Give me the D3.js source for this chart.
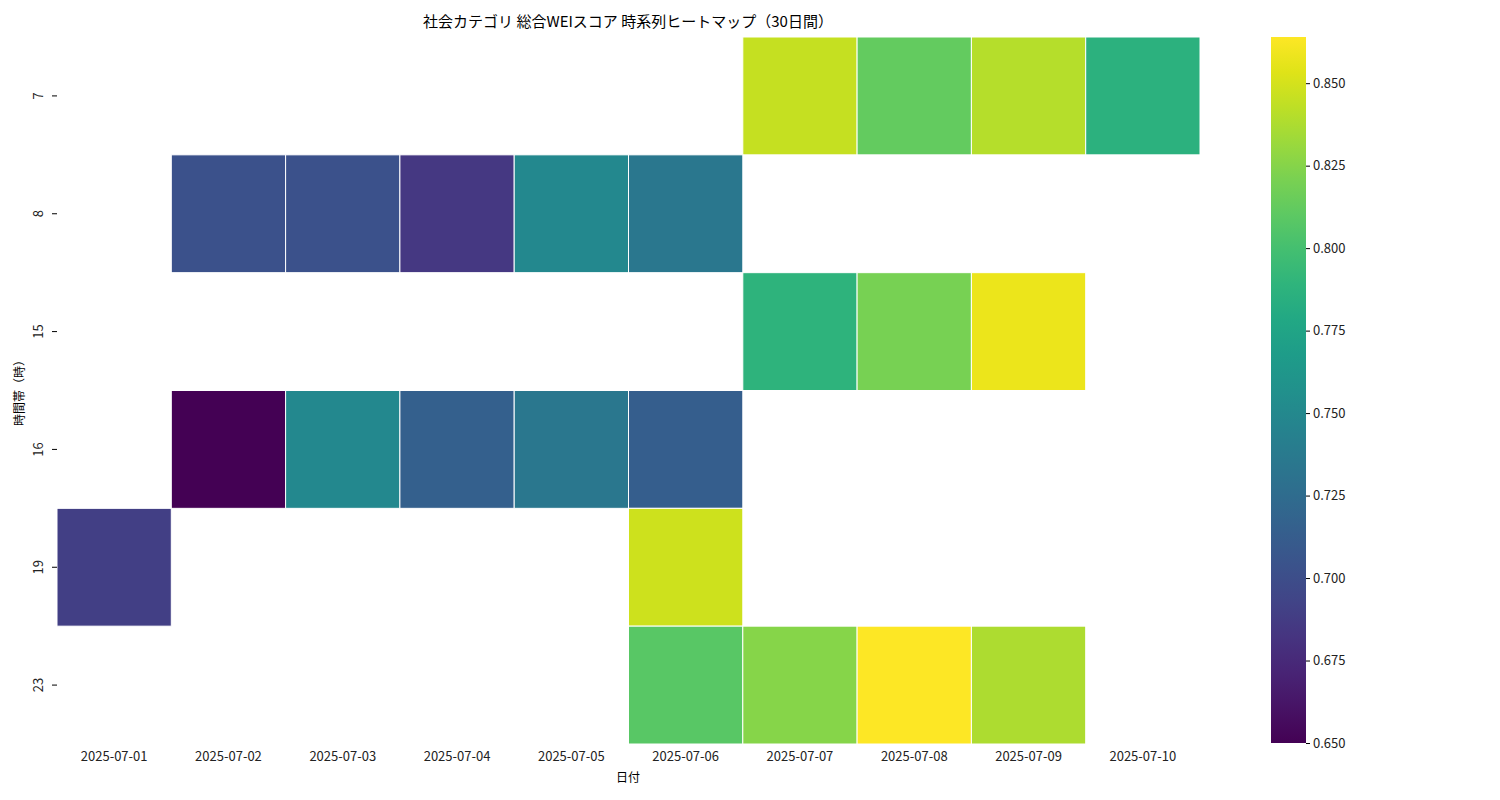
<!DOCTYPE html><html><head><meta charset="utf-8"><script src="https://cdn.jsdelivr.net/npm/d3@7"></script>
<style>body{margin:0;background:#fff}text{font-family:"Noto Sans CJK JP","DejaVu Sans",sans-serif}</style></head><body>
<svg id="c" width="1500" height="800"></svg>
<script>
const dates=["2025-07-01","2025-07-02","2025-07-03","2025-07-04","2025-07-05","2025-07-06","2025-07-07","2025-07-08","2025-07-09","2025-07-10"];
const hours=["7","8","15","16","19","23"];
const cellHour=["7","7","7","7","8","8","8","8","8","15","15","15","16","16","16","16","16","19","19","23","23","23","23"];
const cellDate=["2025-07-07","2025-07-08","2025-07-09","2025-07-10","2025-07-02","2025-07-03","2025-07-04","2025-07-05","2025-07-06","2025-07-07","2025-07-08","2025-07-09","2025-07-02","2025-07-03","2025-07-04","2025-07-05","2025-07-06","2025-07-01","2025-07-06","2025-07-06","2025-07-07","2025-07-08","2025-07-09"];
const cellVal=[0.845,0.813,0.840,0.787,0.703,0.703,0.685,0.750,0.735,0.788,0.820,0.858,0.650,0.750,0.715,0.735,0.713,0.690,0.848,0.808,0.825,0.864,0.838];
const cbTicks=[0.650,0.675,0.700,0.725,0.750,0.775,0.800,0.825,0.850];
const vmin=0.650,vmax=0.864;
const svg=d3.select("#c");
const x=d3.scaleBand().domain(dates).range([57,1200]);
const y=d3.scaleBand().domain(hours).range([37,744]);
const col=d3.scaleSequential(d3.interpolateViridis).domain([vmin,vmax]);
svg.selectAll("rect.c").data(cellVal).enter().append("rect")
 .attr("x",(d,i)=>x(cellDate[i])).attr("y",(d,i)=>y(cellHour[i]))
 .attr("width",x.bandwidth()).attr("height",y.bandwidth())
 .attr("fill",d=>col(d)).attr("stroke","#fff").attr("stroke-width",1);
const ax=svg.append("g").attr("transform","translate(0,744)").call(d3.axisBottom(x).tickSize(0).tickPadding(8));
ax.select(".domain").remove();ax.selectAll("text").attr("font-size",13).attr("fill","#222");
const ay=svg.append("g").attr("transform","translate(57,0)").call(d3.axisLeft(y).tickSize(5));
ay.select(".domain").remove();
ay.selectAll("text").attr("font-size",13).attr("fill","#222").attr("x",0).attr("y",0).attr("dy","0.35em")
 .attr("text-anchor","middle").attr("transform","translate(-19,0) rotate(-90)");
svg.append("text").attr("x",628).attr("y",27).attr("text-anchor","middle").attr("font-size",15).text("社会カテゴリ 総合WEIスコア 時系列ヒートマップ（30日間）");
svg.append("text").attr("x",628).attr("y",782).attr("text-anchor","middle").attr("font-size",12).text("日付");
svg.append("text").attr("transform","translate(24,390) rotate(-90)").attr("text-anchor","middle").attr("font-size",12).text("時間帯（時）");
const defs=svg.append("defs");const g=defs.append("linearGradient").attr("id","g").attr("x1",0).attr("y1",1).attr("x2",0).attr("y2",0);
d3.range(0,1.01,0.05).forEach(t=>g.append("stop").attr("offset",t).attr("stop-color",d3.interpolateViridis(t)));
const cy=d3.scaleLinear().domain([vmin,vmax]).range([743,37]);
svg.append("rect").attr("x",1271).attr("y",37).attr("width",35).attr("height",706).attr("fill","url(#g)");
const ac=svg.append("g").attr("transform","translate(1306,0)").call(d3.axisRight(cy).tickValues(cbTicks).tickFormat(d3.format(".3f")).tickSize(4));
ac.select(".domain").remove();ac.selectAll("text").attr("font-size",13).attr("fill","#222");
</script></body></html>
